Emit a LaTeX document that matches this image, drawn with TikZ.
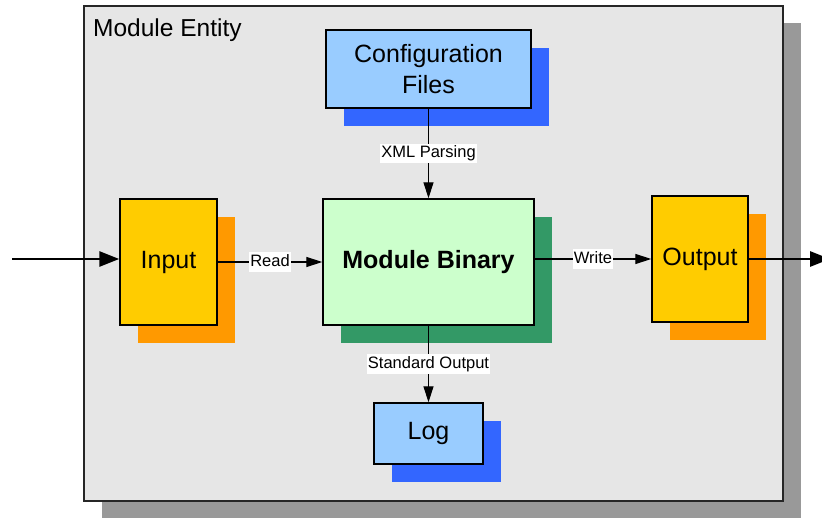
\documentclass[tikz,border=0pt]{standalone}
\usepackage{fontspec}
\setmainfont{Liberation Sans}
\usetikzlibrary{arrows.meta,shadows}
\definecolor{entityfill}{HTML}{E6E6E6}
\definecolor{entityshadow}{HTML}{999999}
\definecolor{bluefill}{HTML}{99CCFF}
\definecolor{blueshadow}{HTML}{3366FF}
\definecolor{yellowfill}{HTML}{FFCC00}
\definecolor{orangeshadow}{HTML}{FF9900}
\definecolor{greenfill}{HTML}{CCFFCC}
\definecolor{greenshadow}{HTML}{339966}
\begin{document}
\begin{tikzpicture}[x=1pt,y=-1pt,
  entitybox/.style={draw=black!85, line width=1.4pt, fill=entityfill, inner sep=0pt,
    general shadow={shadow xshift=18pt, shadow yshift=-17pt, fill=entityshadow}},
  box/.style={draw=black, line width=1.4pt, inner sep=0pt, align=center,
    font=\fontsize{25}{31}\selectfont},
  boxshadow/.style={general shadow={shadow xshift=18pt, shadow yshift=-18pt, fill=#1}},
  thinarrow/.style={draw=black, line width=1.1pt, -{Triangle[length=16pt,width=10pt]}},
  thickarrow/.style={draw=black, line width=2.8pt, -{Triangle[length=20pt,width=15pt]}},
  edgelabel/.style={fill=white, inner xsep=1pt, inner ysep=2pt, text height=12.3pt,
    text depth=3.6pt, font=\fontsize{16.5}{18}\selectfont}
]
\clip (0,0) rectangle (822,518);
% container
\node[entitybox, minimum width=699pt, minimum height=495pt] (entity) at (433.5,253.5) {};
\node[anchor=base west, inner sep=0pt, font=\fontsize{24.5}{30}\selectfont] (entitylabel) at (93,37) {Module Entity};
% boxes
\node[box, fill=bluefill, boxshadow=blueshadow, minimum width=205pt, minimum height=78pt] (cfg) at (428.5,69) {Configuration\\Files};
\node[box, fill=yellowfill, boxshadow=orangeshadow, minimum width=97pt, minimum height=126pt] (input) at (168.5,262) {Input};
\node[box, fill=greenfill, boxshadow=greenshadow, minimum width=211pt, minimum height=126pt, font=\fontsize{25}{31}\selectfont\bfseries] (binary) at (428.5,262) {Module Binary};
\node[box, fill=yellowfill, boxshadow=orangeshadow, minimum width=96pt, minimum height=126pt] (output) at (700,259) {Output};
\node[box, fill=bluefill, boxshadow=blueshadow, minimum width=109pt, minimum height=61pt] (log) at (428.5,433.5) {Log};
% free ends
\coordinate (src) at (12,259);
\coordinate (sink) at (830,259);
% connectors
\draw[thickarrow] (src) -- (src -| input.west);
\draw[thickarrow] (output.east) -- (sink);
\draw[thinarrow] (input.east) -- node[edgelabel] {Read} (binary.west);
\draw[thinarrow] (binary.east |- output.west) -- node[edgelabel] {Write} (output.west);
\draw[thinarrow] (cfg.south) -- node[edgelabel] {XML Parsing} (binary.north);
\draw[thinarrow] (binary.south) -- node[edgelabel] {Standard Output} (log.north);
\end{tikzpicture}
\end{document}
